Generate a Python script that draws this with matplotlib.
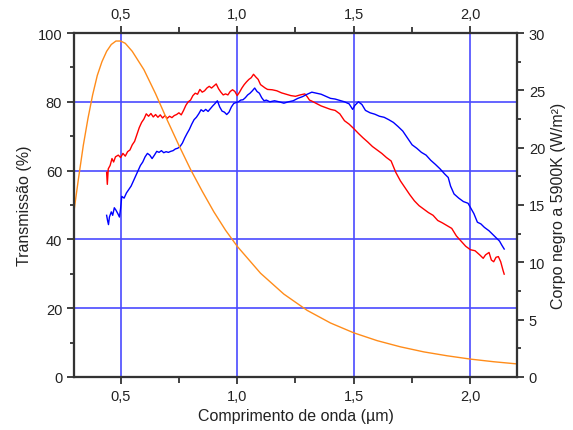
import numpy as np
import matplotlib
matplotlib.use("Agg")
import matplotlib.pyplot as plt
from matplotlib.ticker import MultipleLocator, FuncFormatter

plt.rcParams['font.family'] = ['Liberation Sans', 'DejaVu Sans']

# blackbody curve (right axis)
bb_wl = [0.30, 0.32, 0.34, 0.36, 0.38, 0.40, 0.42, 0.44, 0.46, 0.48, 0.50,
         0.52, 0.55, 0.60, 0.65, 0.70, 0.75, 0.80, 0.85, 0.90, 0.95, 1.00,
         1.10, 1.20, 1.30, 1.40, 1.50, 1.60, 1.70, 1.80, 1.90, 2.00, 2.10, 2.20]
bb_val = [14.46, 17.4, 20.2, 22.55, 24.6, 26.3, 27.5, 28.4, 29.0, 29.3, 29.3,
          29.1, 28.4, 26.8, 24.7, 22.4, 20.2, 18.1, 16.2, 14.4, 12.8, 11.4,
          9.05, 7.23, 5.81, 4.71, 3.85, 3.17, 2.63, 2.19, 1.85, 1.56, 1.33, 1.14]

# red transmission (left axis)
red_wl = [0.440, 0.443, 0.447, 0.455, 0.463, 0.470, 0.478, 0.490, 0.500, 0.510,
          0.520, 0.530, 0.540, 0.550, 0.560, 0.570, 0.580, 0.590, 0.600, 0.610,
          0.620, 0.630, 0.640, 0.650, 0.660, 0.670, 0.680, 0.690, 0.700, 0.710,
          0.720, 0.730, 0.740, 0.750, 0.760, 0.770, 0.780, 0.790, 0.800, 0.810,
          0.820, 0.830, 0.840, 0.850, 0.860, 0.870, 0.880, 0.890, 0.900, 0.910,
          0.920, 0.930, 0.940, 0.950, 0.960, 0.970, 0.980, 0.990, 1.000, 1.010,
          1.020, 1.030, 1.040, 1.050, 1.060, 1.070, 1.080, 1.090, 1.100, 1.110,
          1.120, 1.130, 1.150, 1.170, 1.190, 1.210, 1.230, 1.250, 1.270, 1.290,
          1.300, 1.310, 1.320, 1.340, 1.360, 1.380, 1.400, 1.420, 1.440, 1.460,
          1.480, 1.500, 1.520, 1.540, 1.560, 1.580, 1.600, 1.620, 1.640, 1.660,
          1.680, 1.700, 1.720, 1.740, 1.760, 1.780, 1.800, 1.820, 1.840, 1.860,
          1.880, 1.900, 1.920, 1.940, 1.960, 1.980, 2.000, 2.020, 2.040, 2.055,
          2.065, 2.080, 2.090, 2.100, 2.110, 2.120, 2.130, 2.140, 2.145]
red_val = [59.5, 56.0, 60.5, 61.5, 63.5, 62.5, 64.0, 64.5, 63.8, 65.0,
           64.2, 65.5, 66.0, 67.5, 68.5, 70.5, 72.5, 74.0, 75.0, 76.5,
           75.8, 76.6, 75.6, 76.3, 75.5, 76.2, 75.3, 76.0, 75.2, 75.8,
           75.4, 76.0, 76.3, 76.8, 76.2, 77.5, 79.0, 80.0, 80.5, 81.8,
           82.5, 82.2, 83.6, 82.8, 83.2, 84.0, 84.5, 84.0, 84.6, 85.2,
           83.8, 82.8, 82.0, 82.3, 82.0, 83.0, 83.5, 83.0, 81.8, 82.8,
           84.0, 85.0, 85.8, 86.5, 87.0, 88.0, 87.2, 86.5, 85.0, 84.5,
           84.0, 83.6, 83.5, 83.2, 82.6, 82.2, 81.8, 81.6, 82.0, 82.3,
           81.5, 80.5, 80.2, 79.5, 78.8, 78.3, 77.8, 77.5, 76.5, 74.5,
           73.5, 72.2, 70.8, 69.5, 68.3, 67.0, 66.0, 65.0, 63.8, 62.8,
           59.5, 57.0, 55.0, 53.0, 51.2, 49.8, 48.8, 47.8, 47.0, 45.5,
           44.8, 44.0, 43.2, 41.0, 39.5, 38.0, 37.0, 36.7, 35.5, 34.5,
           35.5, 36.2, 34.0, 33.5, 34.8, 35.0, 33.5, 31.0, 29.9]

# blue transmission (left axis)
blue_wl = [0.440, 0.444, 0.448, 0.452, 0.460, 0.466, 0.473, 0.480, 0.488, 0.495,
           0.500, 0.505, 0.515, 0.525, 0.535, 0.545, 0.555, 0.565, 0.575, 0.585,
           0.595, 0.605, 0.615, 0.625, 0.635, 0.645, 0.655, 0.665, 0.675, 0.685,
           0.695, 0.705, 0.715, 0.725, 0.735, 0.745, 0.755, 0.765, 0.775, 0.785,
           0.795, 0.805, 0.815, 0.825, 0.835, 0.845, 0.855, 0.865, 0.875, 0.885,
           0.895, 0.905, 0.915, 0.925, 0.935, 0.945, 0.955, 0.965, 0.975, 0.985,
           0.995, 1.005, 1.015, 1.025, 1.035, 1.045, 1.055, 1.065, 1.075, 1.085,
           1.095, 1.105, 1.115, 1.125, 1.140, 1.160, 1.180, 1.200, 1.220, 1.240,
           1.260, 1.280, 1.300, 1.320, 1.340, 1.360, 1.380, 1.400, 1.420, 1.440,
           1.460, 1.480, 1.495, 1.505, 1.520, 1.535, 1.550, 1.570, 1.590, 1.610,
           1.630, 1.650, 1.670, 1.690, 1.710, 1.730, 1.750, 1.770, 1.790, 1.810,
           1.830, 1.850, 1.870, 1.890, 1.905, 1.915, 1.930, 1.950, 1.970, 1.990,
           2.000, 2.015, 2.030, 2.045, 2.060, 2.080, 2.095, 2.110, 2.125, 2.135,
           2.145]
blue_val = [47.0, 45.5, 44.3, 46.5, 48.0, 47.0, 49.2, 48.5, 47.5, 46.5,
            49.0, 52.5, 52.0, 53.5, 54.5, 55.5, 57.0, 58.5, 60.0, 61.5,
            62.5, 64.0, 65.0, 64.5, 63.5, 64.5, 65.6, 65.3, 65.8, 65.2,
            65.5, 65.3, 65.6, 65.8, 66.3, 66.5, 67.0, 68.0, 69.5, 70.8,
            72.0, 73.5, 74.8, 75.5, 76.5, 77.7, 77.2, 77.8, 77.2, 78.0,
            78.8, 79.5, 80.3, 78.5, 77.3, 77.0, 76.3, 77.0, 78.5, 79.5,
            79.8, 80.0, 80.5, 80.6, 81.2, 82.0, 82.5, 83.2, 84.0, 83.0,
            82.5, 81.2, 80.3, 80.5, 80.0, 80.3, 80.0, 79.6, 80.0, 80.3,
            81.0, 81.5, 82.2, 82.8, 82.5, 82.2, 81.6, 81.0, 80.8, 80.4,
            80.0, 79.4, 77.8, 79.0, 80.0, 79.2, 77.5, 76.8, 76.4, 75.8,
            75.5, 74.8, 74.0, 72.8, 71.5, 69.5, 67.5, 66.5, 65.3, 64.5,
            63.0, 61.8, 60.5, 59.0, 58.0, 55.5, 53.2, 52.0, 51.0, 50.5,
            49.3, 47.5, 45.0, 44.5, 43.5, 42.5, 41.5, 40.5, 39.5, 38.3,
            37.2]

xticks = [0.5, 1.0, 1.5, 2.0]

fig = plt.figure(figsize=(5.73, 4.31), dpi=100)
ax = fig.add_axes([0.1291, 0.1230, 0.7732, 0.7981])
ax2 = ax.twinx()
axt = ax.twiny()

grid_color = '#4a4aff'
for x in xticks:
    ax.axvline(x, color=grid_color, lw=1.2, zorder=1)
for y in [20, 40, 60, 80]:
    ax.axhline(y, color=grid_color, lw=1.2, zorder=1)

ax.plot(red_wl, red_val, color='#ff0000', lw=1.0, zorder=3)
ax.plot(blue_wl, blue_val, color='#0000ff', lw=1.0, zorder=3)
ax2.plot(bb_wl, bb_val, color='#ff8c1a', lw=1.0)

comma = FuncFormatter(lambda v, p: f'{v:.1f}'.replace('.', ','))

ax.set_xlim(0.3, 2.2)
ax.set_ylim(0, 100)
ax2.set_ylim(0, 30)
axt.set_xlim(0.3, 2.2)

ax.set_xticks(xticks)
ax.xaxis.set_major_formatter(comma)
ax.xaxis.set_minor_locator(MultipleLocator(0.25))
axt.set_xticks(xticks)
axt.xaxis.set_major_formatter(comma)
axt.xaxis.set_minor_locator(MultipleLocator(0.25))
ax.yaxis.set_major_locator(MultipleLocator(20))
ax.yaxis.set_minor_locator(MultipleLocator(10))
ax2.yaxis.set_major_locator(MultipleLocator(5))
ax2.yaxis.set_minor_locator(MultipleLocator(2.5))

for a in (ax, ax2, axt):
    a.tick_params(which='major', direction='out', length=5, width=1.3,
                  color='#333333', labelsize=10.5, labelcolor='#222222')
    a.tick_params(which='minor', direction='out', length=3, width=1.3, color='#333333')
    for s in a.spines.values():
        s.set_color('#333333')
        s.set_linewidth(1.5)
ax.tick_params(axis='x', which='minor', length=4)
axt.tick_params(axis='x', which='minor', length=4)

ax.set_xlabel('Comprimento de onda (µm)', fontsize=11.5, color='#222222')
ax.set_ylabel('Transmissão (%)', fontsize=11.5, color='#222222')
ax2.set_ylabel('Corpo negro a 5900K (W/m²)', fontsize=11.5, color='#222222')

fig.savefig('out.png', dpi=100)
